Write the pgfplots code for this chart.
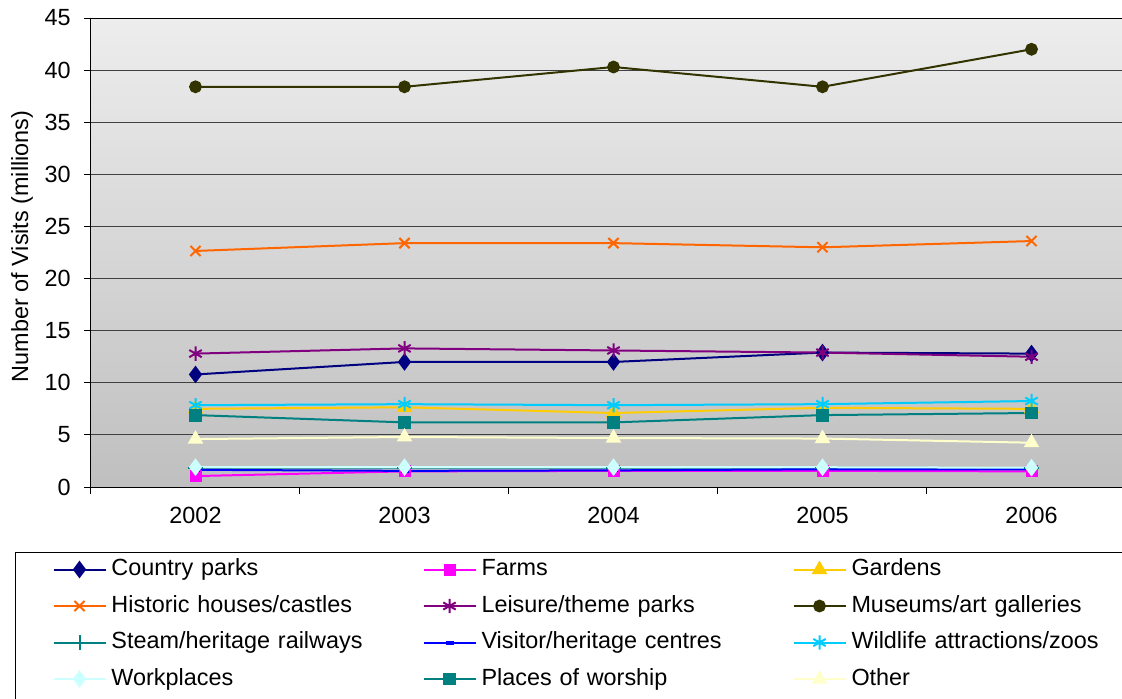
\documentclass[border=0pt]{standalone}
\usepackage{pgfplots}
\pgfplotsset{compat=1.18}
\usepackage{fontspec}
\setmainfont{Liberation Sans}
\definecolor{countryc}{HTML}{000080}
\definecolor{farmc}{HTML}{FF00FF}
\definecolor{gardenc}{HTML}{FFCC00}
\definecolor{histc}{HTML}{FF6600}
\definecolor{leisc}{HTML}{800080}
\definecolor{musc}{HTML}{333300}
\definecolor{steamc}{HTML}{008080}
\definecolor{visc}{HTML}{0000FF}
\definecolor{wildc}{HTML}{00CCFF}
\definecolor{workc}{HTML}{CCFFFF}
\definecolor{worshc}{HTML}{008080}
\definecolor{otherc}{HTML}{FFFFCC}
\begin{document}
\begin{tikzpicture}
\useasboundingbox (-45.5pt,-105.5pt) rectangle (515.5pt,243.5pt);
\begin{axis}[
  at={(0,0)}, anchor=south west,
  scale only axis, width=522.5pt, height=234.5pt,
  xmin=2001.5, xmax=2006.5, ymin=0, ymax=45,
  ytick={0,5,...,45},
  xtick={2001.5,2002.5,...,2006.5}, xticklabels={},
  extra x ticks={2002,2003,2004,2005,2006},
  extra x tick labels={2002,2003,2004,2005,2006},
  extra x tick style={major tick length=0pt, grid=none},
  tick align=outside, major tick length=3.5pt,
  tick style={black, line width=0.5pt},
  xtick pos=bottom, ytick pos=left,
  ymajorgrids, grid style={black!75, line width=0.5pt},
  axis line style={black, line width=0.5pt},
  axis background/.style={shade, top color=gray!14, bottom color=gray!50},
  /pgf/number format/assume math mode=true,
  tick label style={font=\fontsize{11.7}{14}\selectfont},
  yticklabel style={anchor=east, inner sep=0pt, xshift=-6.5pt},
  xticklabel style={anchor=north, inner sep=0pt, yshift=-10pt},
  ylabel={Number of Visits (millions)},
  every axis y label/.style={at={(axis description cs:-0.066,0.513)}, anchor=center, rotate=90, font=\fontsize{11.7}{14}\selectfont},
  every axis plot/.append style={line width=1pt},
  legend image code/.code={\draw[mark repeat=2,mark phase=2] plot coordinates {(0pt,3pt) (13pt,3pt) (26pt,3pt)};},
  legend columns=3,
  legend style={at={(axis description cs:0,0)}, anchor=north west, xshift=-38pt, yshift=-32.5pt,
    draw=black, line width=0.5pt, fill=white,
    inner xsep=18.5pt, inner ysep=2.25pt, column sep=0pt, row sep=6pt,
    font=\fontsize{11.7}{14}\selectfont,
    cells={anchor=base west},
    nodes={inner ysep=0pt, inner xsep=2.5pt, text width=153pt, align=left, text height=9.25pt, text depth=3pt}},
]
\addplot[countryc, mark=diamond*, mark size=3.6pt, mark options={solid, fill=countryc}] coordinates {(2002,10.8) (2003,12.0) (2004,12.0) (2005,12.9) (2006,12.8)};
\addlegendentry{Country parks}
\addplot[farmc, mark=square*, mark size=2.5pt, mark options={solid, fill=farmc}] coordinates {(2002,1.05) (2003,1.5) (2004,1.55) (2005,1.55) (2006,1.5)};
\addlegendentry{Farms}
\addplot[gardenc, mark=triangle*, mark size=3.5pt, mark options={solid, fill=gardenc}] coordinates {(2002,7.5) (2003,7.65) (2004,7.1) (2005,7.6) (2006,7.5)};
\addlegendentry{Gardens}
\addplot[histc, mark=x, mark size=3.6pt, mark options={solid}] coordinates {(2002,22.65) (2003,23.4) (2004,23.4) (2005,23.0) (2006,23.6)};
\addlegendentry{Historic houses/castles}
\addplot[leisc, mark=asterisk, mark size=3.6pt, mark options={solid}] coordinates {(2002,12.8) (2003,13.3) (2004,13.1) (2005,12.9) (2006,12.5)};
\addlegendentry{Leisure/theme parks}
\addplot[musc, mark=*, mark size=2.7pt, mark options={solid, fill=musc}] coordinates {(2002,38.4) (2003,38.4) (2004,40.3) (2005,38.4) (2006,42.0)};
\addlegendentry{Museums/art galleries}
\addplot[steamc, mark=+, mark size=3.6pt, mark options={solid}] coordinates {(2002,1.85) (2003,1.85) (2004,1.85) (2005,1.85) (2006,1.8)};
\addlegendentry{Steam/heritage railways}
\addplot[visc, mark=-, mark size=2pt, mark options={solid, line width=2pt}] coordinates {(2002,1.65) (2003,1.55) (2004,1.6) (2005,1.7) (2006,1.7)};
\addlegendentry{Visitor/heritage centres}
\addplot[wildc, mark=asterisk, mark size=3.6pt, mark options={solid}] coordinates {(2002,7.85) (2003,7.95) (2004,7.85) (2005,7.95) (2006,8.25)};
\addlegendentry{Wildlife attractions/zoos}
\addplot[workc, mark=diamond*, mark size=3.6pt, mark options={solid, fill=workc}] coordinates {(2002,1.9) (2003,1.9) (2004,1.9) (2005,1.9) (2006,1.85)};
\addlegendentry[text depth=14pt]{Workplaces}
\addplot[worshc, mark=square*, mark size=2.7pt, mark options={solid, fill=worshc}] coordinates {(2002,6.9) (2003,6.2) (2004,6.2) (2005,6.9) (2006,7.1)};
\addlegendentry[text depth=14pt]{Places of worship}
\addplot[otherc, mark=triangle*, mark size=3.5pt, mark options={solid, fill=otherc}] coordinates {(2002,4.6) (2003,4.8) (2004,4.7) (2005,4.65) (2006,4.25)};
\addlegendentry[text depth=14pt]{Other}
\end{axis}
\end{tikzpicture}
\end{document}
